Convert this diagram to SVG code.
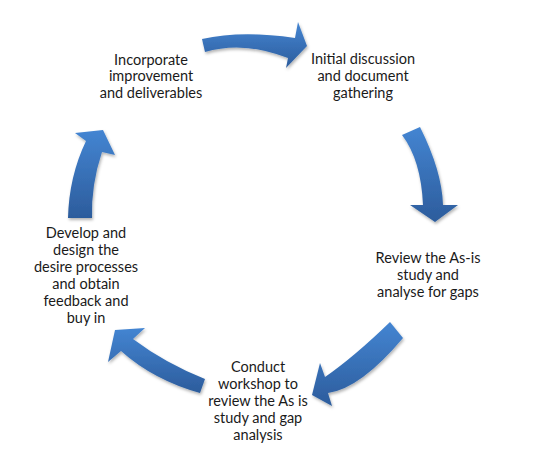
<svg xmlns="http://www.w3.org/2000/svg" width="533" height="460" viewBox="0 0 533 460">
<defs>
<linearGradient id="g" x1="0" y1="0" x2="0" y2="1">
<stop offset="0" stop-color="#4485D2"/>
<stop offset="1" stop-color="#2C5C9C"/>
</linearGradient>
<filter id="sh" x="-20%" y="-20%" width="140%" height="140%">
<feDropShadow dx="1" dy="2" stdDeviation="1.5" flood-color="#000" flood-opacity="0.3"/>
</filter>
<style>
.t{font-family:Lato,"Open Sans","Liberation Sans",sans-serif;font-size:14.5px;fill:#1a1a1a;text-anchor:middle}
.a{fill:url(#g);filter:url(#sh)}
</style>
</defs>
<rect width="533" height="460" fill="#fff"/>
<g id="connectors">
<path class="a" d="M202,39 Q241.5,30 295,38 L298,22 L307,46 L286,68 L288,58 Q243.5,40.5 205,52 Z"/>
<path class="a" d="M402,135 L420,127 Q442,171 443,205 L458,205 L435,222 L410,205 L423,205 Q421,160 402,135 Z"/>
<path class="a" d="M390,322 L403,338 Q360.5,388.5 328,393 L332,406 L312,395 L320,363 L325,377 Q354.5,356.5 390,322 Z"/>
<path class="a" d="M205,379 L200,393 Q153.5,380 121,351 L108,362 L115,330 L145,328 L133,339 Q165,363 205,379 Z"/>
<path class="a" d="M68,218 L92,218 Q91,185 102,152 L115,155 L103,130 L75,133 L86,141 Q69,176.5 68,218 Z"/>
</g>
<g id="node-initial">
<text class="t" x="363" y="64">Initial discussion</text>
<text class="t" x="363" y="81">and document</text>
<text class="t" x="363" y="98">gathering</text>
</g>
<g id="node-review">
<text class="t" x="428" y="263">Review the As-is</text>
<text class="t" x="428" y="280">study and</text>
<text class="t" x="428" y="297">analyse for gaps</text>
</g>
<g id="node-workshop">
<text class="t" x="258" y="372">Conduct</text>
<text class="t" x="258" y="389">workshop to</text>
<text class="t" x="258" y="406">review the As is</text>
<text class="t" x="258" y="423">study and gap</text>
<text class="t" x="258" y="440">analysis</text>
</g>
<g id="node-develop">
<text class="t" x="86" y="238">Develop and</text>
<text class="t" x="86" y="255">design the</text>
<text class="t" x="86" y="272">desire processes</text>
<text class="t" x="86" y="289">and obtain</text>
<text class="t" x="86" y="306">feedback and</text>
<text class="t" x="86" y="323">buy in</text>
</g>
<g id="node-incorporate">
<text class="t" x="151" y="64.5">Incorporate</text>
<text class="t" x="151" y="81">improvement</text>
<text class="t" x="151" y="97.5">and deliverables</text>
</g>
</svg>
